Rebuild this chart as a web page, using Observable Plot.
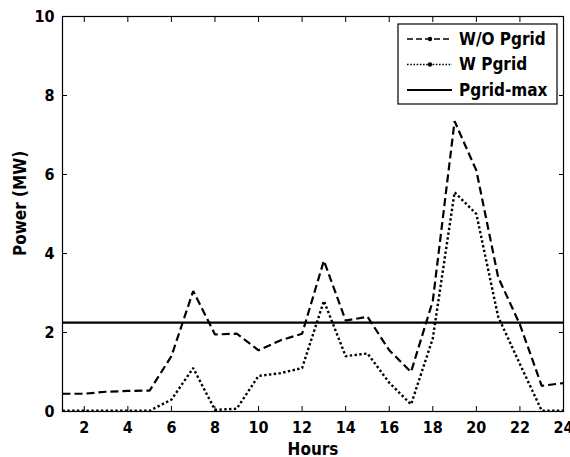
<!DOCTYPE html>
<html>
<head>
<meta charset="utf-8">
<script src="https://cdn.jsdelivr.net/npm/d3@7"></script>
<script src="https://cdn.jsdelivr.net/npm/@observablehq/plot@0.6"></script>
<style>
  html, body { margin: 0; padding: 0; background: #fff; }
  #chart svg { display: block; }
</style>
</head>
<body>
<div id="chart"></div>
<script>
const hours = d3.range(1, 25);
const woPgrid = [0.45, 0.45, 0.5, 0.52, 0.53, 1.4, 3.05, 1.95, 1.97, 1.55, 1.8, 1.97,
                 3.82, 2.3, 2.4, 1.55, 1.0, 2.8, 7.35, 6.1, 3.4, 2.2, 0.65, 0.72];
const wPgrid = [0.02, 0.02, 0.02, 0.02, 0.02, 0.3, 1.1, 0.04, 0.07, 0.9, 0.97, 1.1,
                2.8, 1.4, 1.47, 0.73, 0.18, 1.85, 5.55, 5.0, 2.4, 1.2, 0.02, 0.02];
const pgridMax = 2.25;
const xTicks = d3.range(2, 25, 2);
const yTicks = d3.range(0, 11, 2);
const seriesNames = ["W/O Pgrid", "W Pgrid", "Pgrid-max"];

const rowsWo = hours.map((h, i) => ({hour: h, value: woPgrid[i]}));
const rowsW = hours.map((h, i) => ({hour: h, value: wPgrid[i]}));

const font = "DejaVu Sans Condensed, DejaVu Sans, sans-serif";

const chart = Plot.plot({
  width: 570,
  height: 457,
  marginLeft: 62,
  marginRight: 7,
  marginTop: 16,
  marginBottom: 46,
  style: {fontFamily: font, fontWeight: "bold", fontSize: "16px", color: "#000", background: "#fff"},
  x: {domain: [1, 24]},
  y: {domain: [0, 10]},
  marks: [
    Plot.frame({stroke: "#000", strokeWidth: 1.2}),
    Plot.axisX({ticks: xTicks, tickSize: 0, tickPadding: 10, tickFormat: d => d, label: null}),
    Plot.axisX({ticks: xTicks, tickSize: -5, text: null, label: null}),
    Plot.axisX({ticks: xTicks, anchor: "top", tickSize: -5, text: null, label: null}),
    Plot.axisY({ticks: yTicks, tickSize: 0, tickPadding: 8, tickFormat: d => d, label: null}),
    Plot.axisY({ticks: yTicks, tickSize: -5, text: null, label: null}),
    Plot.axisY({ticks: yTicks, anchor: "right", tickSize: -5, text: null, label: null}),
    Plot.ruleY([pgridMax], {stroke: "#000", strokeWidth: 2.2}),
    Plot.line(rowsWo, {x: "hour", y: "value", stroke: "#000", strokeWidth: 2.2,
      strokeDasharray: "8,4", strokeLinecap: "butt", strokeLinejoin: "miter"}),
    Plot.line(rowsW, {x: "hour", y: "value", stroke: "#000", strokeWidth: 2.4,
      strokeDasharray: "2.4,2.4", strokeLinecap: "butt", strokeLinejoin: "miter"}),
    Plot.text(["Hours"], {frameAnchor: "bottom", dy: 43, fontSize: 17, fontWeight: "bold"}),
    Plot.text(["Power (MW)"], {frameAnchor: "left", dx: -42, dy: 42, rotate: -90, fontSize: 17, fontWeight: "bold"})
  ]
});

// Legend box inside the plot (top-right)
const svg = d3.select(chart);
const lg = svg.append("g").attr("transform", "translate(398,24)");
lg.append("rect").attr("x", 0).attr("y", 0).attr("width", 159).attr("height", 80)
  .attr("fill", "#fff").attr("stroke", "#000").attr("stroke-width", 1.2);
const dashes = ["6,3", "1.6,1.6", null];
seriesNames.forEach((name, i) => {
  const y = 15 + i * 25.5;
  const line = lg.append("line").attr("x1", 9).attr("x2", 54).attr("y1", y).attr("y2", y)
    .attr("stroke", "#000").attr("stroke-width", i < 2 ? 1.6 : 2).attr("stroke-linecap", "butt");
  if (dashes[i]) line.attr("stroke-dasharray", dashes[i]);
  if (i < 2) lg.append("circle").attr("cx", 32).attr("cy", y).attr("r", 2.2).attr("fill", "#000");
  lg.append("text").attr("x", 61).attr("y", y).attr("dy", "0.35em")
    .attr("text-anchor", "start")
    .attr("font-family", font).attr("font-weight", "bold").attr("font-size", 17)
    .text(name);
});

document.getElementById("chart").appendChild(chart);
</script>
</body>
</html>
